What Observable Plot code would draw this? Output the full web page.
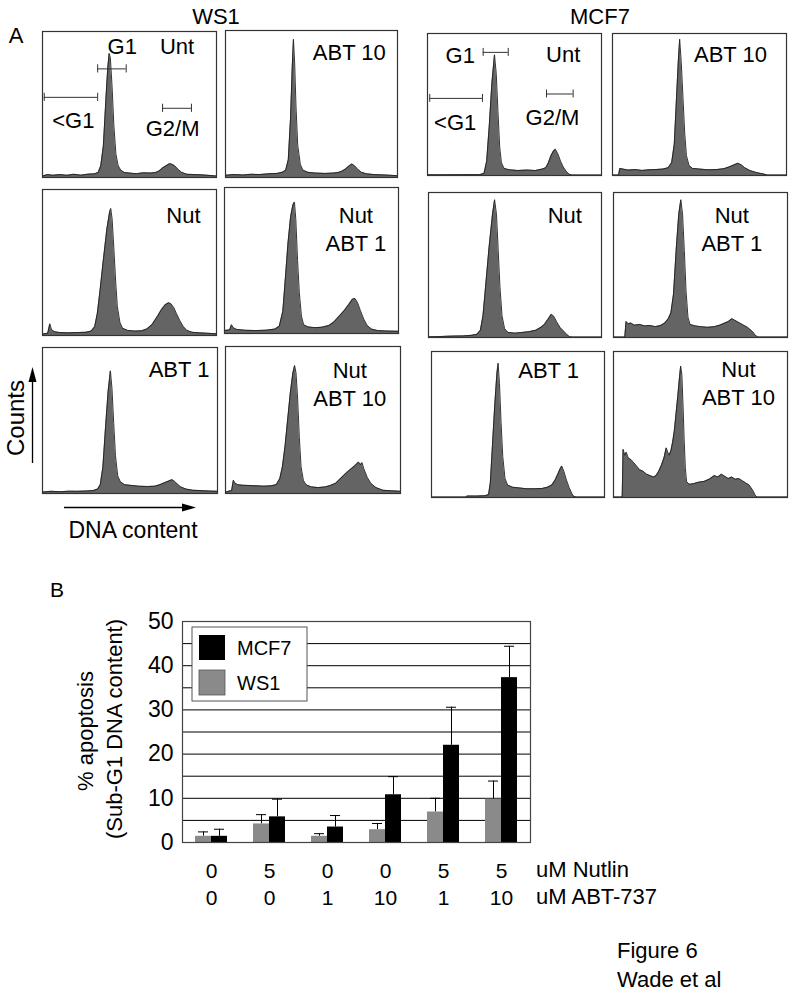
<!DOCTYPE html>
<html><head><meta charset="utf-8">
<script src="https://cdn.jsdelivr.net/npm/d3@7"></script>
<script src="https://cdn.jsdelivr.net/npm/@observablehq/plot@0.6"></script>
<style>
body{margin:0;background:#fff;}
#page{position:relative;width:800px;height:992px;overflow:hidden;background:#fff;font-family:"Liberation Sans",Arial,sans-serif;}
#page > svg.plot-abs{position:absolute;}
#overlay{position:absolute;left:0;top:0;pointer-events:none;}
</style></head>
<body><div id="page"></div>
<script>
// ---------- Panel A: flow cytometry histograms (DNA content channel %, counts % of panel height) ----------
const ws1Unt = [[0,1],[3,2],[6,1.5],[10,2],[14,1.5],[18,2.2],[22,1.6],[26,2.3],[30,2.5],[32,3.5],[33.5,8],[35,22],[36.5,55],[37.5,75],[38.3,85],[39,82],[40,62],[41,36],[42.2,16],[43.5,8],[45,5],[47,3.5],[50,3],[54,2.6],[58,3.2],[62,3],[65,3.4],[67,4.5],[69,6.5],[71,8],[73,9.5],[74.5,9],[76,8],[78,5.5],[80,3.5],[83,2.2],[87,2],[91,1.8],[95,1.5],[100,1]];
const ws1Abt10 = [[0,1.5],[5,2],[10,1.7],[15,2.2],[20,2],[25,2.5],[30,2.8],[33,3.5],[35,5],[36.5,12],[37.8,40],[38.8,75],[39.5,94],[40.2,78],[41,48],[42,22],[43.5,9],[45,5],[48,3.5],[52,3],[58,2.8],[63,3],[66,3.5],[68,4.5],[70,6],[72,8],[73.5,9.2],[75,8],[77,5.5],[79,3.5],[82,2.5],[86,2],[90,1.8],[95,1.6],[100,1.2]];
const mcf7Unt = [[0,0.5],[10,0.5],[20,0.6],[30,0.6],[32.5,1.5],[34,10],[35.5,35],[37,65],[38.5,85],[39.5,72],[40.5,45],[41.5,20],[42.5,9],[44,5],[47,4],[52,3.5],[57,3.8],[62,3.5],[66,4.5],[68,5.5],[69.5,9],[71,14],[72.5,17.5],[73.5,18.5],[75,15],[76.5,10],[78,6],[80,2.5],[81.5,0.8],[83,0.3],[100,0.3]];
const mcf7Abt10 = [[0,0.3],[3.5,0.3],[4.2,5],[6,4.5],[9,3.8],[13,4.2],[17,3.6],[21,4],[25,4.2],[29,4.5],[32,5.5],[34,9],[35.5,22],[36.8,55],[37.8,80],[38.6,96],[39.5,80],[40.5,55],[41.5,30],[42.5,14],[44,7],[46,5],[50,4.5],[55,4],[60,4.2],[64,4.8],[67,6],[70,7.5],[72,8.7],[74,7.5],[76,5.5],[79,3.5],[83,2],[87,1],[89,0.3],[100,0.3]];
const ws1Nut = [[0,1],[3,1.5],[4.2,8],[5.2,4],[7,2.5],[10,2],[15,1.8],[20,2],[25,2.2],[28,3],[30,6],[31.5,15],[33,30],[35,52],[37,73],[38.5,84],[39.2,87],[40,80],[41,60],[42,38],[43,20],[44.5,9],[46,5],[49,3.5],[53,3],[57,3.2],[60,4.5],[63,7.5],[66,13],[68.5,18],[70.5,21],[72.5,22.5],[74,21.5],[75.5,19],[77,15],[79,10],[81,6],[83,3.5],[86,2.2],[90,1.8],[95,1.5],[100,1.2]];
const ws1NutAbt1 = [[0,2],[3,2.5],[4,6],[5,4],[7,2.8],[12,2.2],[18,2],[24,2.3],[29,3],[31.5,5],[33.5,15],[35,38],[36.5,62],[38,80],[39.3,88],[40.2,90],[41,78],[42,50],[43,28],[44.2,12],[45.5,6],[48,4.5],[52,4],[56,4.3],[60,5.5],[63,8],[66,12],[69,16],[71.5,20],[73.5,23.5],[75,24],[76.5,21],[78,16],[80,10],[82,5.5],[84.5,3],[88,2],[93,1.7],[100,1.5]];
const mcf7Nut = [[0,0.5],[5,0.6],[10,0.8],[15,1],[20,1.1],[25,1.5],[28,2.2],[30,5],[31.5,15],[33,35],[35,62],[37,85],[38.2,95],[39.3,85],[40.3,60],[41.3,35],[42.5,15],[44,6],[46,3.5],[50,3],[54,3.5],[58,4],[62,5],[65,7],[67,9],[69,12.5],[71,16],[72.5,14.5],[74,11],[76,7],[78,4.5],[80,2],[81.5,0.6],[83,0.3],[100,0.3]];
const mcf7NutAbt1 = [[0,0.3],[6.5,0.3],[7.2,11],[8.5,9.5],[10,10],[12,8.5],[15,9],[18,8],[21,8.3],[24,7.5],[27,8.2],[29.5,10],[31.5,13],[33,17],[34.5,30],[36,60],[37.5,85],[38.7,95],[39.7,85],[40.7,60],[41.7,32],[42.8,14],[44,9],[47,8],[50,7.5],[54,7],[58,7.5],[61,8.5],[64,10],[66,11],[68,13],[69.5,12],[71,11],[74,9],[77,7],[80,4],[81.5,1.5],[83,0.3],[100,0.3]];
const ws1Abt1 = [[0,1],[5,1.5],[10,1.2],[15,1.6],[20,1.5],[25,1.7],[29,2],[31.5,3],[33,6],[34.5,18],[36,45],[37.5,70],[38.8,84],[39.7,72],[40.7,48],[41.7,26],[43,12],[44.5,8],[47,6],[51,5.5],[55,5],[60,4.8],[64,5],[67,6],[70,7.5],[72.5,8.7],[74,9.5],[75.5,8.3],[77,6.5],[79,4.5],[82,3],[86,2.2],[90,2],[95,1.7],[100,1.5]];
const ws1NutAbt10 = [[0,1],[3.5,2],[4.5,9],[5.5,7],[7,6],[10,5.6],[14,5.4],[18,5.2],[22,5],[26,5.2],[29,6],[31,10],[32.5,18],[34,32],[35.5,50],[37,68],[38.5,82],[39.5,87],[40.3,82],[41.2,65],[42.2,38],[43.2,18],[44.5,9],[46,6],[49,4.5],[53,4],[57,4.5],[60,5.5],[63,7],[66,10.5],[69,14],[72,17],[74.5,19.5],[76,21.5],[77,19.5],[78,21],[79,17],[81,11],[83,7],[86,4],[90,2.2],[95,1.8],[100,1.5]];
const mcf7Abt1 = [[0,0.3],[20,0.3],[20.5,1],[26,1],[31,1.2],[33,2],[34,10],[35.2,35],[36.5,62],[37.8,85],[38.5,92],[39.3,78],[40.2,52],[41.2,28],[42.5,13],[44,8.5],[47,7],[51,6.5],[55,6],[60,6],[64,6.2],[67,7],[69.5,8.5],[71.5,12],[73,16],[74.5,20],[75.3,21.5],[76.5,18],[78,12],[79.5,7],[81,3],[82,1],[83.5,0.3],[100,0.3]];
const mcf7NutAbt10 = [[0,0.3],[5,0.3],[5.5,33],[6.5,29],[7.3,31],[8.5,27],[10,26],[11.5,24],[13,22],[15,19],[17,18],[19,16],[21,15],[23,14],[24.5,15],[26,18],[27.5,22],[29,27],[30.3,34],[31.2,31],[32,29],[33,32],[34,38],[35,46],[36,58],[37,70],[38,83],[38.6,90],[39.3,84],[40,62],[40.6,40],[41.3,20],[42,11],[43.5,9],[46,9.5],[49,10.5],[52,11],[55,12.5],[58,15],[60,14],[62,16],[64,14.5],[66,13],[68,14],[70,12.5],[72,13],[74,11.5],[76,10],[78,8.5],[80,5],[81.5,1.5],[82.5,0.3],[100,0.3]];

// panel labels (text, and position in the panel's data units)
const untLabelsWs1 = [{x:45.8,y:90.4,t:"G1"},{x:77.3,y:90.4,t:"Unt"},{x:17.7,y:40,t:"<G1"},{x:74.8,y:34.8,t:"G2/M"}];
const untGatesWs1 = [{x1:31.7,x2:48.1,y:74.4},{x1:1,x2:31.7,y:54.9},{x1:69,x2:85.6,y:47.4}];
const untLabelsMcf7 = [{x:18.8,y:85.5,t:"G1"},{x:78,y:86,t:"Unt"},{x:15.9,y:38.6,t:"<G1"},{x:71.8,y:41.7,t:"G2/M"}];
const untGatesMcf7 = [{x1:32,x2:46.4,y:86.7},{x1:1.3,x2:31.6,y:54.3},{x1:68.4,x2:83.7,y:57.4}];

const panels = [
  {data: ws1Unt,       labels: untLabelsWs1, gates: untGatesWs1, box:[42,31,174,146]},
  {data: ws1Abt10,     labels: [{x:72,y:86,t:"ABT 10"}], gates: [], box:[225,30,172,147]},
  {data: mcf7Unt,      labels: untLabelsMcf7, gates: untGatesMcf7, box:[427,33,174,142]},
  {data: mcf7Abt10,    labels: [{x:67.8,y:86.4,t:"ABT 10"}], gates: [], box:[612,33,174,142]},
  {data: ws1Nut,       labels: [{x:81,y:83,t:"Nut"}], gates: [], box:[42,189,174,146]},
  {data: ws1NutAbt1,   labels: [{x:75.5,y:72.5,t:"Nut\nABT 1"}], gates: [], box:[224,187,174,146]},
  {data: mcf7Nut,      labels: [{x:78.8,y:85,t:"Nut"}], gates: [], box:[428,192,173,145]},
  {data: mcf7NutAbt1,  labels: [{x:68,y:75.5,t:"Nut\nABT 1"}], gates: [], box:[613,192,174,145]},
  {data: ws1Abt1,      labels: [{x:78,y:85.7,t:"ABT 1"}], gates: [], box:[42,347,175,146]},
  {data: ws1NutAbt10,  labels: [{x:71,y:75,t:"Nut\nABT 10"}], gates: [], box:[225,346,175,147]},
  {data: mcf7Abt1,     labels: [{x:67.7,y:88,t:"ABT 1"}], gates: [], box:[431,351,173,146]},
  {data: mcf7NutAbt10, labels: [{x:71.8,y:79,t:"Nut\nABT 10"}], gates: [], box:[613,351,174,146]}
];

// ---------- Panel B: % apoptosis bar chart ----------
const groupIndex = [0,1,2,3,4,5];
const nutlinDose = ["0","5","0","0","5","5"];
const abtDose = ["0","0","1","10","1","10"];
const ws1Mean = [1.4, 4.2, 1.4, 2.9, 6.9, 9.8];
const ws1Sd   = [1.0, 2.1, 0.6, 1.4, 3.1, 4.1];
const mcf7Mean = [1.4, 5.8, 3.5, 10.8, 22.0, 37.3];
const mcf7Sd   = [1.6, 4.0, 2.6, 4.1, 8.6, 7.1];
const yTicks = [0,10,20,30,40,50];
const gridLines = [5,10,15,20,25,30,35,40,45];

const FONT = '"Liberation Sans", Arial, sans-serif';
const page = document.getElementById("page");

function place(svg, left, top) {
  svg.classList.add("plot-abs");
  svg.style.left = left + "px";
  svg.style.top = top + "px";
  page.appendChild(svg);
}

for (const p of panels) {
  const [L, T, W, H] = p.box;
  const gateEnds = p.gates.flatMap(g => [{x: g.x1, y: g.y}, {x: g.x2, y: g.y}]);
  const svg = Plot.plot({
    width: W + 2, height: H + 2, margin: 1,
    x: {domain: [0, 100], axis: null},
    y: {domain: [0, 100], axis: null},
    style: {fontFamily: FONT, background: "transparent", overflow: "visible"},
    marks: [
      Plot.areaY(p.data, {x: d => d[0], y: d => d[1], fill: "#646464", curve: "linear"}),
      Plot.lineY(p.data, {x: d => d[0], y: d => d[1], stroke: "#1e1e1e", strokeWidth: 0.9, curve: "linear"}),
      Plot.ruleY(p.gates, {y: "y", x1: "x1", x2: "x2", stroke: "#333", strokeWidth: 1}),
      Plot.ruleX(gateEnds, {x: "x", y1: d => d.y - 2.8, y2: d => d.y + 2.8, stroke: "#333", strokeWidth: 1}),
      Plot.text(p.labels, {x: "x", y: "y", text: "t", fontSize: 22, lineHeight: 1.27, fill: "#000"}),
      Plot.frame({stroke: "#333", strokeWidth: 1.2})
    ]
  });
  place(svg, L - 1, T - 1);
}

const barData = groupIndex.map(i => ({
  g: i, ws1: ws1Mean[i], ws1Hi: ws1Mean[i] + ws1Sd[i], mcf7: mcf7Mean[i], mcf7Hi: mcf7Mean[i] + mcf7Sd[i]
}));

const bar = Plot.plot({
  width: 600, height: 320,
  marginLeft: 182, marginRight: 70, marginTop: 21, marginBottom: 78,
  x: {type: "band", domain: groupIndex, paddingInner: 0.45, paddingOuter: 0.225, axis: null},
  y: {domain: [0, 50], axis: null},
  style: {fontFamily: FONT, background: "transparent", color: "#000", overflow: "visible"},
  marks: [
    Plot.ruleY(gridLines, {stroke: "#000", strokeWidth: 1}),
    Plot.ruleX(barData, {x: "g", y1: "ws1", y2: "ws1Hi", dx: -8, stroke: "#000", strokeWidth: 1}),
    Plot.ruleX(barData, {x: "g", y1: "mcf7", y2: "mcf7Hi", dx: 8, stroke: "#000", strokeWidth: 1}),
    Plot.tickY(barData, {x: "g", y: "ws1Hi", insetLeft: 3, insetRight: 19, stroke: "#000", strokeWidth: 1}),
    Plot.tickY(barData, {x: "g", y: "mcf7Hi", insetLeft: 19, insetRight: 3, stroke: "#000", strokeWidth: 1}),
    Plot.barY(barData, {x: "g", y: "ws1", fill: "#8a8a8a", insetRight: 16}),
    Plot.barY(barData, {x: "g", y: "mcf7", fill: "#000", insetLeft: 16}),
    Plot.frame({stroke: "#444", strokeWidth: 1.2}),
    Plot.axisY(yTicks, {tickSize: 0, tickPadding: 9, fontSize: 23, tickFormat: d => String(d), fill: "#000"}),
    Plot.text(barData, {x: "g", text: d => nutlinDose[d.g] + "\n" + abtDose[d.g], frameAnchor: "bottom", lineAnchor: "top", dy: 16, fontSize: 21, lineHeight: 1.29, fill: "#000"})
  ]
});
place(bar, 0, 600);

// ---------- overlay: titles, axis arrows, legend ----------
const ns = "http://www.w3.org/2000/svg";
const overlay = document.createElementNS(ns, "svg");
overlay.setAttribute("id", "overlay");
overlay.setAttribute("width", 800);
overlay.setAttribute("height", 992);
overlay.innerHTML = `
<g font-family='${FONT}' fill="#000">
  <text x="216" y="24" font-size="22" text-anchor="middle">WS1</text>
  <text x="600" y="24" font-size="22" text-anchor="middle">MCF7</text>
  <text x="16" y="43" font-size="22" text-anchor="middle">A</text>
  <text transform="translate(24,418) rotate(-90)" font-size="24" text-anchor="middle">Counts</text>
  <line x1="32.5" y1="463" x2="32.5" y2="380" stroke="#000" stroke-width="1.3"/>
  <path d="M32.5,367 L28.5,382 L36.5,382 Z" fill="#000"/>
  <line x1="64" y1="507.5" x2="184" y2="507.5" stroke="#000" stroke-width="1.3"/>
  <path d="M196,507.5 L182,503.5 L182,511.5 Z" fill="#000"/>
  <text x="133" y="538" font-size="23" text-anchor="middle">DNA content</text>
  <text x="57" y="597" font-size="21" text-anchor="middle">B</text>
  <text transform="translate(93,731) rotate(-90)" font-size="22" text-anchor="middle">% apoptosis</text>
  <text transform="translate(122,729) rotate(-90)" font-size="22" text-anchor="middle">(Sub-G1 DNA content)</text>
  <rect x="192" y="627" width="115" height="74" fill="#fff" stroke="#555" stroke-width="1"/>
  <rect x="199" y="635" width="26" height="25" fill="#000"/>
  <rect x="199" y="670" width="26" height="25" fill="#8a8a8a" stroke="#555" stroke-width="0.8"/>
  <text x="237" y="655" font-size="20">MCF7</text>
  <text x="237" y="690" font-size="20">WS1</text>
  <text x="536" y="877" font-size="22">uM Nutlin</text>
  <text x="536" y="904" font-size="22">uM ABT-737</text>
  <text x="617" y="958" font-size="22">Figure 6</text>
  <text x="617" y="987" font-size="22">Wade et al</text>
</g>`;
page.appendChild(overlay);
</script>
</body></html>
